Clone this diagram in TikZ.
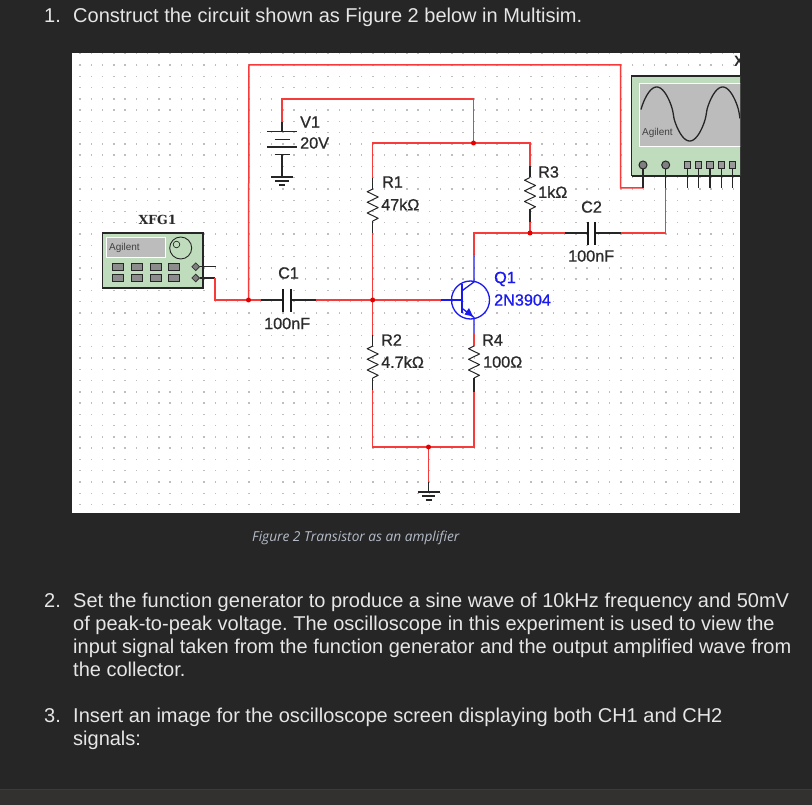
\documentclass[tikz,border=0pt]{standalone}
\usepackage{fontspec}
\setmainfont{Liberation Sans}
\newfontfamily\capfont{Open Sans}
\newfontfamily\slabfont{DejaVu Serif}
\newfontfamily\labfont[FakeBold=0.9]{Liberation Sans}
\usetikzlibrary{calc,shapes.geometric}
\definecolor{pagebg}{HTML}{262626}
\definecolor{barbg}{HTML}{32312F}
\definecolor{barline}{HTML}{3C3B38}
\definecolor{bodytext}{HTML}{E6E6E6}
\definecolor{captext}{HTML}{B4BCC8}
\definecolor{griddot}{HTML}{BEBEBE}
\definecolor{wire}{HTML}{F73B3B}
\definecolor{partblue}{HTML}{1A1AF0}
\definecolor{labeltext}{HTML}{2A2A2A}
\definecolor{instgreen}{HTML}{BFDCBC}
\definecolor{instgrey}{HTML}{BCBCBC}
\tikzset{
  bodyline/.style={anchor=base west,inner sep=0pt,text=bodytext,font=\fontsize{20}{20}\selectfont},
  lab/.style={anchor=west,inner sep=0pt,text=labeltext,font=\labfont\fontsize{16.2}{17}\selectfont},
  qlab/.style={anchor=west,inner sep=0pt,text=partblue,font=\labfont\fontsize{16.2}{17}\selectfont},
  redwire/.style={draw=wire,line width=1.5pt,line join=miter},
  blackwire/.style={draw=black!85,line width=1.3pt},
  bluewire/.style={draw=partblue,line width=1.3pt},
  junction/.style={circle,fill=red!90!black,inner sep=0pt,minimum size=5pt},
  btn/.style={draw=black!85,fill=black!45,line width=1pt,inner sep=0pt,minimum width=11pt,minimum height=7pt},
  term/.style={diamond,draw=black!80,fill=black!50,line width=.8pt,inner sep=0pt,minimum size=8pt},
  sqterm/.style={draw=black!85,fill=black!40,line width=1pt,inner sep=0pt,minimum size=6.5pt},
  termround/.style={circle,draw=black!85,fill=black!50,line width=1pt,inner sep=0pt,minimum size=8pt},
  res/.pic={\draw[black!85,line width=1pt,line join=round]
     (0,0) -- (-5.5,2.7) -- (5.5,8) -- (-5.5,13.3) -- (5.5,18.6) -- (-5.5,24) -- (5.5,29.3) -- (0,32);}
}
\begin{document}
\begin{tikzpicture}[x=1pt,y=-1pt]
\frenchspacing
\useasboundingbox (0,0) rectangle (812,805);
\fill[pagebg] (0,0) rectangle (812,805);
\fill[barbg] (0,789) rectangle (812,805);
\draw[barline,line width=1pt] (0,789) -- (812,789);
\fill[white] (72,53) rectangle (740,513);
% grid dots
\foreach \i in {0,...,58}{\foreach \j in {-1,0,...,39}{
  \fill[griddot] ({80+11.27*\i-.7},{65+11.27*\j-.7}) rectangle ++(1.4,1.4);
}}
% named points
\coordinate (topL) at (249,65);
\coordinate (topR) at (620.5,65);
\coordinate (scA) at (620.5,188);
\coordinate (inJ) at (248.5,300);
\coordinate (batTop) at (282,99);
\coordinate (batEnd) at (282,122);
\coordinate (vccR) at (473.5,99);
\coordinate (r1T) at (372.7,143);
\coordinate (r3T) at (530,143);
\coordinate (r3K) at (530,166);
\coordinate (r3B) at (530,233);
\coordinate (colT) at (474,233);
\coordinate (colM) at (474,255);
\coordinate (c2L) at (565,233);
\coordinate (c2R) at (621,233);
\coordinate (c2E) at (665.7,233);
\coordinate (scB) at (665.7,188);
\coordinate (baseJ) at (372.7,300);
\coordinate (baseW) at (441,300);
\coordinate (c1L) at (261,300);
\coordinate (c1R) at (315.6,300);
\coordinate (fgA) at (215,278);
\coordinate (fgB) at (215,300);
\coordinate (gL) at (372.7,447);
\coordinate (gR) at (474,447);
\coordinate (gJ) at (428.5,447);
\coordinate (gB) at (428.5,482);
\coordinate (gE) at (428.5,492);
% instruments
\fill[instgreen] (102.7,233) rectangle (203,288);
\draw[black!85,line width=1.2pt] (102.7,233) rectangle (203,288);
\fill[instgrey,draw=white,line width=1pt] (106.7,237.7) rectangle (165,258);
\node[inner sep=0pt,anchor=west,text=black!75,font=\fontsize{10}{10}\selectfont] (agA) at (109,247.5) {Agilent};
\draw[black!85,line width=.9pt] (180.7,248) circle (11);
\draw[black!85,line width=.7pt,fill=instgreen] (176.5,244.5) circle (3.3);
\foreach \x/\n in {118.3/a,137/b,155.7/c,174.3/d}{
  \node[btn] (bu\n) at (\x,266.7) {};
  \node[btn] (bl\n) at (\x,278) {};
}
\node[term] (fgU) at (195.7,266.7) {};
\node[term] (fgL) at (195.7,278) {};
\coordinate (fgUE) at (215.5,266.7);
\draw[blackwire] (fgU) -- (fgUE);
\draw[blackwire] (fgL) -- (fgA);
\node[anchor=center,inner sep=0pt,text=labeltext,font=\slabfont\bfseries\fontsize{12.5}{13}\selectfont] (xfg) at (157.5,219.5) {XFG1};
% scope
\begin{scope}
\clip (620,50) rectangle (740,200);
\fill[instgreen] (631.7,76) rectangle (760,176);
\draw[black!85,line width=1.2pt] (631.7,176) -- (631.7,76) -- (760,76);
\draw[black!85,line width=1.2pt] (631.7,176) -- (760,176);
\fill[instgrey,draw=white,line width=1pt] (639.3,83.3) rectangle (760,146.7);
\draw[black!85,line width=1.3pt,smooth] plot[domain=641:740,samples=100]
  (\x,{114-27*sign(sin((\x-640.2)/66*360))*pow(abs(sin((\x-640.2)/66*360))+0.0001,0.7)});
\node[anchor=west,inner sep=0pt,text=labeltext,font=\fontsize{15}{15}\selectfont\bfseries] (xsc) at (734,61) {X};
\end{scope}
\node[inner sep=0pt,anchor=west,text=black!75,font=\fontsize{10}{10}\selectfont] (agB) at (642,133) {Agilent};
\node[termround] (scT1) at (643,165) {};
\node[termround] (scT2) at (665.7,165) {};
\foreach \x/\n in {687.3/a,698.7/b,710/c,721.3/d,732.7/e}{
  \node[sqterm] (sq\n) at (\x,165) {};
  \coordinate (sqe\n) at (\x,188);
  \draw[blackwire] (sq\n) -- (sqe\n);
}
\coordinate (scAe) at (643,188);
\coordinate (scBe) at (665.7,188);
% red wiring
\draw[redwire] (inJ) -- (topL) -- (topR) -- (scA) -- (scAe);
\draw[redwire] (batEnd) -- (batTop) -- (vccR) -- (473.5,143);
\draw[redwire] (r3K) -- (r3T) -- (r1T) -- (372.7,177.7);
\draw[redwire] (372.7,233) -- (baseJ);
\draw[redwire] (372.7,335) -- (baseJ);
\draw[redwire] (fgA) -- (fgB) -- (c1L);
\draw[redwire] (c1R) -- (baseW);
\draw[redwire] (r3B) -- (530,222);
\draw[redwire] (colM) -- (colT) -- (c2L);
\draw[redwire] (c2R) -- (c2E) -- (scB);
\draw[redwire] (474,334) -- (474,346);
\draw[redwire] (372.7,390) -- (gL) -- (gR) -- (474,392);
\draw[redwire] (gJ) -- (gB);
% scope leads
\draw[blackwire] (scT1) -- (scAe);
\draw[blackwire] (scT2) -- (scBe);
% black leads
\draw[blackwire] (batEnd) -- (282,131.5);
\draw[blackwire] (gB) -- (gE);
% battery
\draw[blackwire] (267,131.5) -- (297,131.5);
\draw[blackwire] (274.5,139.5) -- (289.5,139.5);
\draw[blackwire] (267,147) -- (297,147);
\draw[blackwire] (274.5,154.5) -- (289.5,154.5);
\draw[blackwire] (282,154.5) -- (282,177);
\draw[blackwire] (271,177) -- (293,177);
\draw[blackwire] (275,181) -- (289,181);
\draw[blackwire] (279,185) -- (285,185);
% ground
\draw[blackwire] (417.5,492) -- (439.5,492);
\draw[blackwire] (422,496) -- (435,496);
\draw[blackwire] (425.5,500) -- (431.5,500);
% resistors
\draw[blackwire] (372.7,177.7) -- (372.7,189);
\pic at (372.7,189) {res};
\draw[blackwire] (372.7,221) -- (372.7,233);
\draw[blackwire] (530,166) -- (530,177.5);
\pic at (530,177.5) {res};
\draw[blackwire] (530,209.5) -- (530,222);
\draw[blackwire] (372.7,335) -- (372.7,346);
\pic at (372.7,346) {res};
\draw[blackwire] (372.7,378) -- (372.7,390);
\pic at (474,346) {res};
\draw[blackwire] (474,378) -- (474,392);
% capacitors
\draw[blackwire] (c1L) -- (283,300);
\draw[blackwire] (290.7,300) -- (c1R);
\draw[black!90,line width=2pt] (283,289) -- (283,312);
\draw[black!90,line width=2pt] (290.7,289) -- (290.7,312);
\draw[blackwire] (c2L) -- (587.7,233);
\draw[blackwire] (595,233) -- (c2R);
\draw[black!90,line width=2pt] (587.7,222) -- (587.7,245);
\draw[black!90,line width=2pt] (595,222) -- (595,245);
% transistor
\draw[bluewire] (470.5,300) circle (19);
\draw[bluewire] (baseW) -- (461.7,300);
\draw[bluewire,line width=1.6pt] (461.7,284) -- (461.7,313);
\draw[bluewire] (461.7,291) -- (474,282) -- (colM);
\draw[bluewire] (461.7,308) -- (474,317.5) -- (474,334);
\fill[partblue] (473,316.5) -- (464.5,314.5) -- (469,308) -- cycle;
% junctions
\node[junction] (j1) at (inJ) {};
\node[junction] (j2) at (473.5,143) {};
\node[junction] (j3) at (530,233) {};
\node[junction] (j4) at (baseJ) {};
\node[junction] (j5) at (gJ) {};
% component labels
\node[lab] (lV) at (300,122) {V1};
\node[lab] (lVv) at (300,143) {20V};
\node[lab] (lR1) at (382,182) {R1};
\node[lab] (lR1v) at (381,204.5) {47kΩ};
\node[lab] (lR3) at (538,172) {R3};
\node[lab] (lR3v) at (538,192) {1kΩ};
\node[lab] (lC2) at (581,207) {C2};
\node[lab] (lC2v) at (568,256) {100nF};
\node[lab] (lC1) at (278,273) {C1};
\node[lab] (lC1v) at (264,323.5) {100nF};
\node[lab] (lR2) at (381,340) {R2};
\node[lab] (lR2v) at (381,362) {4.7kΩ};
\node[lab] (lR4) at (482,340) {R4};
\node[lab] (lR4v) at (483,362) {100Ω};
\node[qlab] (lQ) at (494,279) {Q1};
\node[qlab] (lQv) at (494,300) {2N3904};
% caption
\node[anchor=base west,inner sep=0pt,text=captext,font=\capfont\itshape\fontsize{13.7}{14}\selectfont] (cap) at (252,541.5) {Figure 2 Transistor as an amplifier};
% body text
\node[bodyline] (n1) at (44,23) {1.};
\node[bodyline] (t1) at (73,23) {Construct the circuit shown as Figure 2 below in Multisim.};
\node[bodyline] (n2) at (44,607) {2.};
\node[bodyline] (t2) at (73,607) {Set the function generator to produce a sine wave of 10kHz frequency and 50mV};
\node[bodyline] (t3) at (73,630) {of peak-to-peak voltage. The oscilloscope in this experiment is used to view the};
\node[bodyline] (t4) at (73,653) {input signal taken from the function generator and the output amplified wave from};
\node[bodyline] (t5) at (73,676) {the collector.};
\node[bodyline] (n3) at (44,722) {3.};
\node[bodyline] (t6) at (73,722) {Insert an image for the oscilloscope screen displaying both CH1 and CH2};
\node[bodyline] (t7) at (73,745) {signals:};
\end{tikzpicture}
\end{document}
